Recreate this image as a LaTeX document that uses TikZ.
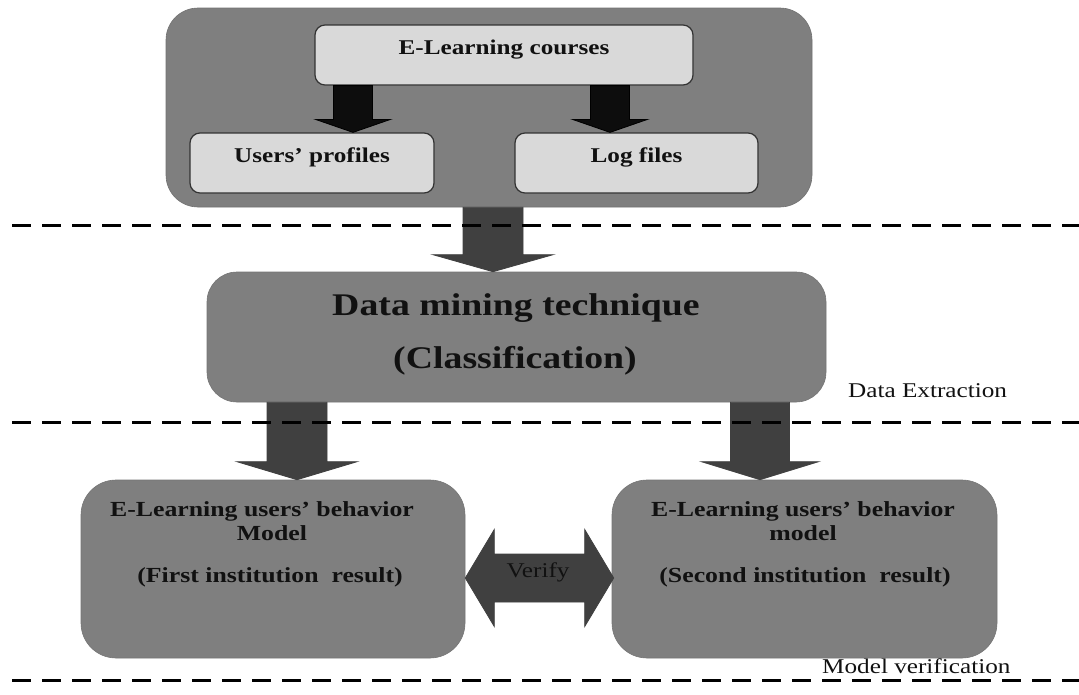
\documentclass[tikz,border=0pt]{standalone}
\usepackage{fontspec}
\setmainfont{Liberation Serif}[FakeStretch=1.2]
\usetikzlibrary{calc}
\definecolor{outerg}{HTML}{7F7F7F}
\definecolor{lightg}{HTML}{D9D9D9}
\definecolor{arrowg}{HTML}{404040}
\definecolor{inkc}{HTML}{111111}
\newcommand{\vblock}[6]{%
  \draw[#1] let \p1=(#2), \p2=(#3) in
    (\x1-#4pt,\y1) -- (\x1+#4pt,\y1) -- (\x1+#4pt,\y2+#6pt) -- (\x1+#5pt,\y2+#6pt)
    -- (\x1,\y2) -- (\x1-#5pt,\y2+#6pt) -- (\x1-#4pt,\y2+#6pt) -- cycle;}
\newcommand{\hdblock}[6]{%
  \draw[#1] let \p1=(#2), \p2=(#3) in
    (\x1,\y1) -- (\x1+#6pt,\y1+#5pt) -- (\x1+#6pt,\y1+#4pt) -- (\x2-#6pt,\y1+#4pt)
    -- (\x2-#6pt,\y1+#5pt) -- (\x2,\y1) -- (\x2-#6pt,\y1-#5pt) -- (\x2-#6pt,\y1-#4pt)
    -- (\x1+#6pt,\y1-#4pt) -- (\x1+#6pt,\y1-#5pt) -- cycle;}
\tikzset{
  outerbox/.style={fill=outerg, draw=outerg!90!black, line width=0.6pt, rounded corners=32pt, inner sep=0pt},
  lightbox/.style={fill=lightg, draw=black!80, line width=1.2pt, rounded corners=10pt, inner sep=0pt},
  grayblock/.style={fill=outerg, draw=outerg!92!black, line width=0.6pt, inner sep=0pt},
  blackarrow/.style={fill=black!95, draw=black, line width=0.8pt},
  grayarrow/.style={fill=arrowg, draw=black!75, line width=0.8pt},
  btxt/.style={inner sep=0pt, anchor=base, text=inkc, font=\fontsize{21}{25}\selectfont\bfseries},
  bigtxt/.style={inner sep=0pt, anchor=base, text=inkc, font=\fontsize{31.5}{36}\selectfont\bfseries},
  mtxt/.style={inner sep=0pt, anchor=base, text=inkc, font=\fontsize{21.5}{25}\selectfont\bfseries},
  rtxt/.style={inner sep=0pt, anchor=base, text=inkc, font=\fontsize{21}{25}\selectfont},
  sep/.style={line width=3pt, dash pattern=on 19pt off 11pt, black}
}
\begin{document}
\begin{tikzpicture}[x=1pt,y=-1pt]
\useasboundingbox (0,0) rectangle (1079,694);
% top panel
\node[outerbox, minimum width=646pt, minimum height=199pt] (outer) at (489,107.5) {};
\node[lightbox, minimum width=378pt, minimum height=60pt] (courses) at (504,55) {};
\node[lightbox, minimum width=244pt, minimum height=60pt] (profiles) at (312,163) {};
\node[lightbox, minimum width=243pt, minimum height=60pt] (logs) at (636.5,163) {};
\vblock{blackarrow}{353,0 |- courses.south}{353,0 |- profiles.north}{19.5}{37.5}{13}
\vblock{blackarrow}{610,0 |- courses.south}{610,0 |- logs.north}{19.5}{37.5}{13}
% data mining
\node[grayblock, rounded corners=30pt, minimum width=619pt, minimum height=130pt] (dm) at (516.5,337) {};
\vblock{grayarrow}{493,0 |- outer.south}{493,0 |- dm.north}{30}{60}{17}
% models
\node[grayblock, rounded corners=35pt, minimum width=384pt, minimum height=178pt] (modelA) at (273,569) {};
\node[grayblock, rounded corners=35pt, minimum width=385pt, minimum height=178pt] (modelB) at (804.5,569) {};
\vblock{grayarrow}{297,0 |- dm.south}{297,0 |- modelA.north}{30}{60}{18}
\vblock{grayarrow}{760,0 |- dm.south}{760,0 |- modelB.north}{29.5}{58.5}{18}
\hdblock{grayarrow}{[yshift=-9pt]modelA.east}{[yshift=-9pt,xshift=2pt]modelB.west}{24}{48.5}{29}
% texts
\node[btxt] (coursesT) at (504,54) {E-Learning courses};
\node[btxt] (profilesT) at (312,162) {Users’ profiles};
\node[btxt] (logsT) at (636.5,162) {Log files};
\node[bigtxt] (dmT1) at (516,315) {Data mining technique};
\node[bigtxt] (dmT2) at (515,368) {(Classification)};
\node[mtxt] (aT1) at (262,516) {E-Learning users’ behavior};
\node[mtxt] (aT2) at (272,540) {Model};
\node[mtxt] (aT3) at (270,582) {(First institution\ \ result)};
\node[mtxt] (bT1) at (803,516) {E-Learning users’ behavior};
\node[mtxt] (bT2) at (803,540) {model};
\node[mtxt] (bT3) at (805,582) {(Second institution\ \ result)};
\node[rtxt] (verifyT) at (538,577) {Verify};
\node[rtxt, anchor=base west] (extrT) at (848,397) {Data Extraction};
\node[rtxt, anchor=base west] (mverT) at (822,673) {Model verification};
% separators
\draw[sep] (12,225) -- (1079,225);
\draw[sep] (12,422) -- (1079,422);
\draw[sep] (12,680) -- (1079,680);
\end{tikzpicture}
\end{document}
